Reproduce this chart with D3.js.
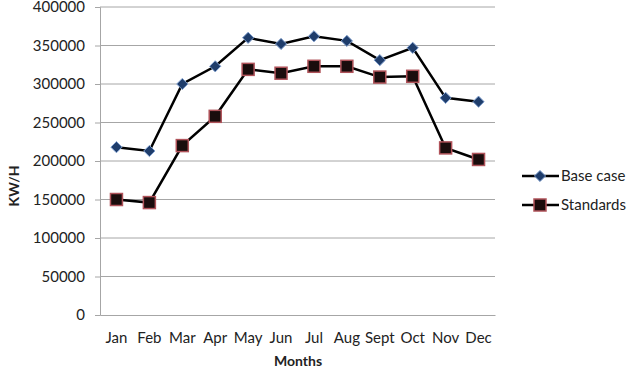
<!DOCTYPE html>
<html>
<head>
<meta charset="utf-8">
<script src="https://cdn.jsdelivr.net/npm/d3@7"></script>
<style>
  body { margin: 0; background: #fff; }
  text { font-family: Lato, "Open Sans", sans-serif; fill: #222; }
</style>
</head>
<body>
<div id="chart"></div>
<script>
  // data
  let months = ["Jan","Feb","Mar","Apr","May","Jun","Jul","Aug","Sept","Oct","Nov","Dec"];
  let baseCase = [218000,213000,300000,323000,360000,352000,362000,356000,331000,347000,282000,277000];
  let standards = [150000,146000,220000,258000,319000,314000,323000,323000,309000,310000,217000,202000];
  let yTicks = [0,50000,100000,150000,200000,250000,300000,350000,400000];

  let width = 639, height = 370;
  let plotLeft = 100, plotRight = 495, plotTop = 7, plotBottom = 315;

  let svg = d3.select("#chart").append("svg")
    .attr("width", width).attr("height", height);

  let x = d3.scaleBand().domain(months).range([plotLeft, plotRight]);
  let y = d3.scaleLinear().domain([0, 400000]).range([plotBottom, plotTop]);

  // gridlines
  svg.append("g").selectAll("line")
    .data(yTicks.slice(1))
    .enter().append("line")
    .attr("x1", plotLeft).attr("x2", plotRight)
    .attr("y1", d => y(d)).attr("y2", d => y(d))
    .attr("stroke", "#a6a6a6").attr("stroke-width", 1);

  // y axis
  let yAxis = svg.append("g")
    .attr("transform", "translate(" + plotLeft + ",0)")
    .call(d3.axisLeft(y).tickValues(yTicks).tickFormat(d3.format("d")).tickSize(5).tickPadding(10));
  yAxis.select(".domain").attr("stroke", "#a6a6a6");
  yAxis.selectAll(".tick line").attr("stroke", "#a6a6a6");
  yAxis.selectAll("text").style("font-size", "15px").attr("fill", "#222");

  // x axis
  let xAxis = svg.append("g")
    .attr("transform", "translate(0," + plotBottom + ")")
    .call(d3.axisBottom(x).tickSize(0).tickPadding(17));
  xAxis.select(".domain").attr("stroke", "#a6a6a6");
  xAxis.selectAll("text").style("font-size", "15px").attr("fill", "#222");

  // axis titles
  svg.append("text")
    .attr("transform", "translate(19,186) rotate(-90)")
    .attr("text-anchor", "middle")
    .style("font-size", "14px").style("font-weight", "bold")
    .text("KW/H");
  svg.append("text")
    .attr("x", 298).attr("y", 366)
    .attr("text-anchor", "middle")
    .style("font-size", "14px").style("font-weight", "bold")
    .text("Months");

  let line = d3.line()
    .x((d, i) => x(months[i]) + x.bandwidth() / 2)
    .y(d => y(d));

  let diamond = d3.symbol().type(d3.symbolDiamond2).size(80);

  function drawDiamond(g, cx, cy) {
    g.append("path")
      .attr("d", diamond())
      .attr("transform", "translate(" + cx + "," + cy + ")")
      .attr("fill", "#1f3d6b").attr("stroke", "#7f9fcf").attr("stroke-width", 1);
  }
  function drawSquare(g, cx, cy) {
    g.append("rect")
      .attr("x", cx - 6).attr("y", cy - 6)
      .attr("width", 12).attr("height", 12)
      .attr("fill", "#1a0d0d").attr("stroke", "#b0535a").attr("stroke-width", 1.5);
  }

  // series lines
  svg.append("path").datum(baseCase)
    .attr("d", line).attr("fill", "none")
    .attr("stroke", "#000").attr("stroke-width", 2.5);
  svg.append("path").datum(standards)
    .attr("d", line).attr("fill", "none")
    .attr("stroke", "#000").attr("stroke-width", 2.5);

  let markers = svg.append("g");
  baseCase.forEach((d, i) => drawDiamond(markers, x(months[i]) + x.bandwidth() / 2, y(d)));
  standards.forEach((d, i) => drawSquare(markers, x(months[i]) + x.bandwidth() / 2, y(d)));

  // legend
  let legend = svg.append("g");
  [["Base case", 176, drawDiamond], ["Standards", 205, drawSquare]].forEach(function(item) {
    legend.append("line")
      .attr("x1", 522).attr("x2", 559)
      .attr("y1", item[1]).attr("y2", item[1])
      .attr("stroke", "#000").attr("stroke-width", 2.5);
    item[2](legend, 540, item[1]);
    legend.append("text")
      .attr("x", 561).attr("y", item[1] + 5)
      .style("font-size", "15px")
      .text(item[0]);
  });
</script>
</body>
</html>
